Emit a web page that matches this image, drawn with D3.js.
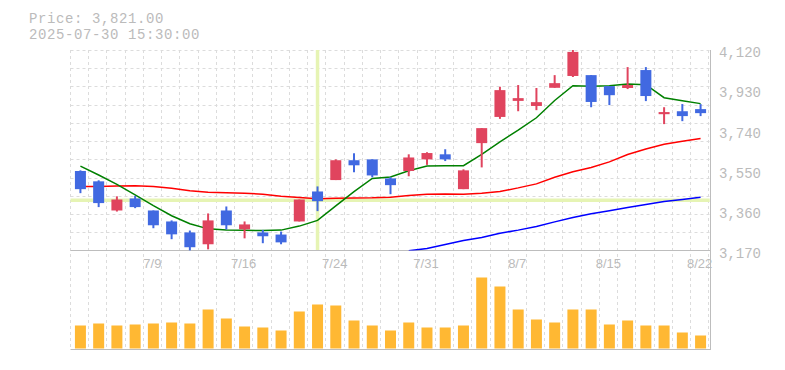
<!DOCTYPE html>
<html>
<head>
<meta charset="utf-8">
<script src="https://cdn.jsdelivr.net/npm/d3@7"></script>
<style>
  html, body { margin: 0; padding: 0; background: #fff; }
  svg { display: block; }
</style>
</head>
<body>
<div id="chart"></div>
<script>
// ---- data ----
const dates = ['7/3','7/4','7/7','7/8','7/9','7/10','7/11','7/14','7/15','7/16','7/17','7/18','7/22','7/23','7/24','7/25','7/28','7/29','7/30','7/31','8/1','8/4','8/5','8/6','8/7','8/8','8/12','8/13','8/14','8/15','8/18','8/19','8/20','8/21','8/22'];
const opens  = [3547,3498,3360,3417,3360,3308,3256,3200,3360,3271,3256,3246,3308,3450,3504,3598,3602,3512,3547,3602,3626,3461,3679,3803,3879,3855,3941,3997,4001,3949,3940,4025,3816,3830,3840];
const highs  = [3550,3503,3427,3429,3360,3313,3265,3346,3379,3308,3268,3260,3412,3474,3602,3631,3602,3518,3626,3636,3650,3555,3750,3946,3954,3940,4001,4120,4001,3949,4039,4039,3849,3864,3864];
const lows   = [3442,3376,3355,3371,3276,3224,3171,3176,3270,3228,3205,3200,3308,3357,3504,3541,3517,3437,3522,3576,3594,3461,3564,3794,3830,3835,3941,3992,3849,3859,3935,3878,3769,3783,3807];
const closes = [3461,3395,3412,3376,3290,3247,3186,3313,3290,3294,3238,3209,3412,3404,3598,3574,3526,3480,3611,3632,3602,3550,3750,3930,3892,3873,3963,4111,3874,3906,3954,3902,3826,3807,3821];
const volumes = [230,250,230,240,250,260,250,390,300,220,210,180,370,440,430,280,230,180,260,210,210,230,710,620,390,290,260,390,390,240,280,230,230,160,130];
const ma5  = [3570,3528,3484,3434,3383,3335,3297,3273,3268,3266,3265,3267,3286,3313,3382,3449,3512,3519,3548,3571,3572,3572,3626,3685,3740,3799,3881,3951,3948,3951,3959,3956,3894,3880,3866];
const ma25 = [3474,3474,3476,3477,3474,3465,3453,3446,3444,3442,3437,3427,3422,3415,3418,3419,3420,3423,3431,3437,3438,3437,3442,3450,3467,3486,3517,3543,3564,3590,3625,3651,3674,3688,3701];
const ma75 = [null,null,null,null,null,null,null,null,null,null,null,null,null,null,null,null,null,null,3169,3180,3199,3218,3232,3252,3267,3284,3306,3327,3344,3359,3374,3388,3402,3412,3423];
const xTickLabels = ['7/9','7/16','7/24','7/31','8/7','8/15','8/22'];
const yTickValues = [3170,3360,3550,3740,3930,4120];
const infoLines = ['Price: 3,821.00', '2025-07-30 15:30:00'];
const crossIndex = 13;
const crossPrice = 3408;

(function () {
// ---- layout ----
const W = 785, H = 370;
const pLeft = 71.3, pRight = 709.7, pTop = 50, priceBottom = 250.6, volBottom = 348.5, axisBottom = 350;
const gridColor = '#dcdcdc', axisColor = '#bdbdbd', textColor = '#bbbbbb';
const upColor = '#e0445e', downColor = '#4169e1', volColor = '#ffb833', crossColor = '#e6f4b4';

const svg = d3.select('#chart').append('svg').attr('width', W).attr('height', H);
svg.append('rect').attr('width', W).attr('height', H).attr('fill', '#fff');

const idx = d3.range(dates.length);
const x = d3.scaleBand().domain(idx).range([pLeft, pRight]).padding(0);
const step = x.step();
const cx = i => x(i) + step / 2;
const y = d3.scaleLinear().domain([3170, 4120]).range([priceBottom, pTop]);
const yv = d3.scaleLinear().domain([0, 800]).range([volBottom, volBottom - 80]);

// ---- grid ----
const grid = svg.append('g');
const vLines = idx.concat([dates.length]).map(i => i < dates.length ? x(i) : pRight);
grid.selectAll('line.v').data(vLines).join('line')
  .attr('x1', d => Math.floor(d - 0.8) + 0.5).attr('x2', d => Math.floor(d - 0.8) + 0.5)
  .attr('y1', pTop).attr('y2', axisBottom)
  .attr('stroke', gridColor).attr('stroke-width', 1).attr('stroke-dasharray', '3,3');
const hVals = d3.range(11).map(k => 4120 - k * 950 / 11);
grid.selectAll('line.h').data(hVals).join('line')
  .attr('x1', pLeft - 0.8).attr('x2', pRight)
  .attr('y1', d => Math.round(y(d)) + 0.5).attr('y2', d => Math.round(y(d)) + 0.5)
  .attr('stroke', gridColor).attr('stroke-width', 1).attr('stroke-dasharray', '3,3');

// ---- crosshair ----
svg.append('line').attr('x1', pLeft - 0.8).attr('x2', pRight)
  .attr('y1', y(crossPrice)).attr('y2', y(crossPrice))
  .attr('stroke', crossColor).attr('stroke-width', 3.5);
svg.append('line').attr('x1', cx(crossIndex)).attr('x2', cx(crossIndex))
  .attr('y1', pTop).attr('y2', priceBottom)
  .attr('stroke', crossColor).attr('stroke-width', 3.5);

// ---- axis lines ----
svg.append('line').attr('x1', pLeft - 0.8).attr('x2', pRight + 1).attr('y1', 250.5).attr('y2', 250.5).attr('stroke', axisColor);
svg.append('line').attr('x1', pLeft - 0.8).attr('x2', pRight + 1).attr('y1', 349.5).attr('y2', 349.5).attr('stroke', axisColor);
svg.append('line').attr('x1', 710.5).attr('x2', 710.5).attr('y1', pTop).attr('y2', axisBottom).attr('stroke', axisColor);

// ---- moving averages ----
svg.append('defs').append('clipPath').attr('id', 'pclip')
  .append('rect').attr('x', pLeft - 1).attr('y', pTop).attr('width', pRight - pLeft + 2).attr('height', priceBottom - pTop);
const lineGen = arr => d3.line().defined(i => arr[i] != null).x(i => cx(i)).y(i => y(arr[i]));
const maG = svg.append('g').attr('clip-path', 'url(#pclip)');
[[ma25, '#ff0000'], [ma75, '#0000ff'], [ma5, '#008000']].forEach(([arr, col]) => {
  maG.append('path').attr('d', lineGen(arr)(idx)).attr('fill', 'none').attr('stroke', col).attr('stroke-width', 1.5);
});

// ---- candles ----
const bw = 11;
const cg = svg.append('g');
const col = i => closes[i] >= opens[i] ? upColor : downColor;
cg.selectAll('line.wick').data(idx).join('line')
  .attr('x1', i => cx(i)).attr('x2', i => cx(i))
  .attr('y1', i => y(highs[i])).attr('y2', i => y(lows[i]))
  .attr('stroke', col).attr('stroke-width', 2);
cg.selectAll('rect.body').data(idx).join('rect')
  .attr('x', i => cx(i) - bw / 2)
  .attr('y', i => y(Math.max(opens[i], closes[i])))
  .attr('width', bw)
  .attr('height', i => Math.max(1.5, Math.abs(y(opens[i]) - y(closes[i]))))
  .attr('fill', col);

// ---- volume ----
svg.append('g').selectAll('rect').data(idx).join('rect')
  .attr('x', i => cx(i) - bw / 2).attr('width', bw)
  .attr('y', i => yv(volumes[i])).attr('height', i => yv(0) - yv(volumes[i]))
  .attr('fill', volColor);

// ---- labels ----
svg.append('g').selectAll('text').data(yTickValues).join('text')
  .attr('x', 719).attr('y', d => y(d) + 7.3)
  .attr('font-family', '"Liberation Mono", monospace').attr('font-size', 14)
  .attr('fill', textColor)
  .text(d => d3.format(',')(d));

svg.append('g').selectAll('text').data(xTickLabels).join('text')
  .attr('x', d => cx(dates.indexOf(d)) - 1).attr('y', 268)
  .attr('text-anchor', 'middle')
  .attr('font-family', '"Liberation Sans", sans-serif').attr('font-size', 13)
  .attr('fill', textColor)
  .text(d => d);

svg.append('g').selectAll('text').data(infoLines).join('text')
  .attr('x', 29).attr('y', (d, i) => 22.5 + i * 16)
  .attr('font-family', '"Liberation Mono", monospace').attr('font-size', 14)
  .attr('letter-spacing', 0.6)
  .attr('fill', textColor)
  .text(d => d);
})();
</script>
</body>
</html>
